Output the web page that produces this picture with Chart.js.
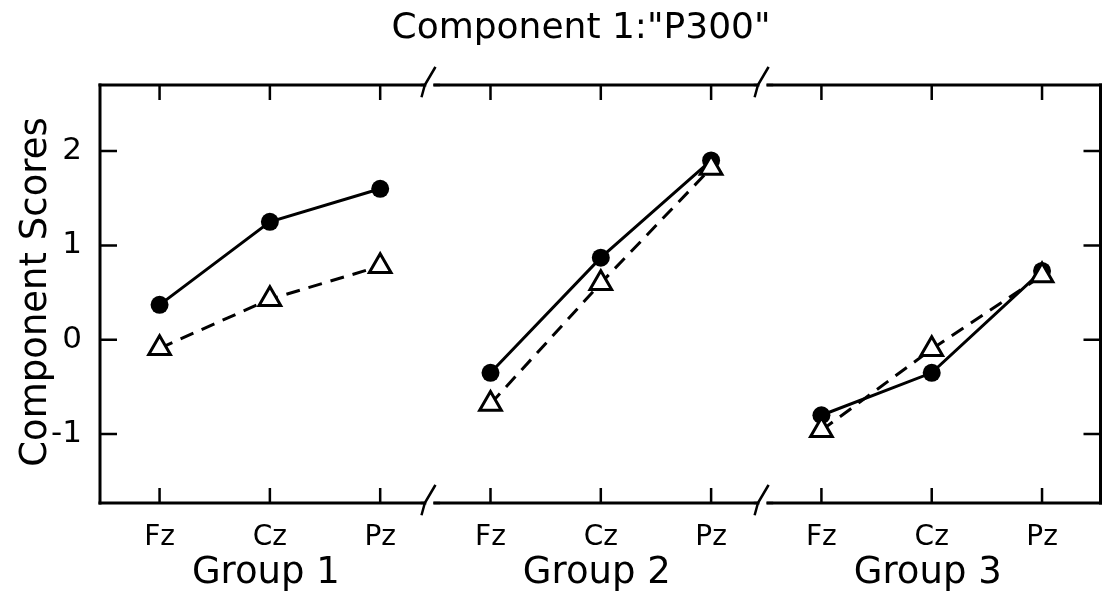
<!DOCTYPE html>
<html>
<head>
<meta charset="utf-8">
<script src="https://cdn.jsdelivr.net/npm/chart.js@4.4.0/dist/chart.umd.min.js"></script>
<style>
  html, body { margin: 0; padding: 0; background: #fff; }
  #wrap { width: 1116px; height: 603px; }
</style>
</head>
<body>
<div id="wrap"><canvas id="p300Chart"></canvas></div>
<script>
  const chartTitle = 'Component 1:"P300"';
  const yTitle = 'Component Scores';
  const groups = ['Group 1', 'Group 2', 'Group 3'];
  const electrodes = ['Fz', 'Cz', 'Pz'];
  // filled circles, solid line
  const circleScores = [0.37, 1.25, 1.6, -0.35, 0.87, 1.9, -0.8, -0.35, 0.73];
  // open triangles, dashed line
  const triangleScores = [-0.09, 0.43, 0.78, -0.68, 0.6, 1.82, -0.96, -0.1, 0.68];
  const yTicks = [-1, 0, 1, 2];

  const FONT = '"DejaVu Sans", sans-serif';

  // one line per group: a null point between groups breaks the line
  function toPoints(values) {
    const pts = [];
    groups.forEach((g, gi) => {
      electrodes.forEach((e, ei) => {
        pts.push({ x: gi * 3 + ei, y: values[gi * 3 + ei] });
      });
      if (gi < groups.length - 1) pts.push({ x: gi * 3 + 2.5, y: null });
    });
    return pts;
  }

  // frame with inward ticks and axis breaks, plus titles
  const framePlugin = {
    id: 'frame',
    beforeDatasetsDraw(chart) {
      const { ctx, chartArea: a, scales: { x, y } } = chart;
      ctx.save();
      ctx.strokeStyle = '#000';
      ctx.lineWidth = 3;
      ctx.lineCap = 'square';
      const breaks = [2.45, 5.47].map(v => x.getPixelForValue(v));

      // left and right sides
      ctx.beginPath();
      ctx.moveTo(a.left, a.top); ctx.lineTo(a.left, a.bottom);
      ctx.moveTo(a.right, a.top); ctx.lineTo(a.right, a.bottom);
      ctx.stroke();

      // top and bottom, broken between groups
      [a.top, a.bottom].forEach(yy => {
        let start = a.left;
        ctx.beginPath();
        breaks.forEach(bx => {
          ctx.moveTo(start, yy); ctx.lineTo(bx - 5, yy);
          start = bx + 5;
        });
        ctx.moveTo(start, yy); ctx.lineTo(a.right, yy);
        ctx.stroke();
        ctx.lineWidth = 2.5;
        breaks.forEach(bx => {
          ctx.beginPath();
          ctx.moveTo(bx - 8, yy); ctx.lineTo(bx - 5, yy);
          ctx.lineTo(bx - 8, yy + 11);
          ctx.moveTo(bx - 5, yy); ctx.lineTo(bx + 5, yy - 17);
          ctx.moveTo(bx + 5, yy); ctx.lineTo(bx + 9, yy);
          ctx.stroke();
        });
        ctx.lineWidth = 3;
      });

      // inward ticks
      ctx.lineWidth = 2.5;
      ctx.lineCap = 'butt';
      ctx.beginPath();
      yTicks.forEach(v => {
        const py = y.getPixelForValue(v);
        ctx.moveTo(a.left, py); ctx.lineTo(a.left + 17, py);
        ctx.moveTo(a.right, py); ctx.lineTo(a.right - 17, py);
      });
      for (let i = 0; i < groups.length * electrodes.length; i++) {
        const px = x.getPixelForValue(i);
        ctx.moveTo(px, a.bottom); ctx.lineTo(px, a.bottom - 15);
        ctx.moveTo(px, a.top); ctx.lineTo(px, a.top + 15);
      }
      ctx.stroke();
      ctx.restore();
    },
    afterDraw(chart) {
      const { ctx, chartArea: a, scales: { x } } = chart;
      ctx.save();
      ctx.fillStyle = '#000';
      ctx.textAlign = 'center';
      ctx.textBaseline = 'alphabetic';
      ctx.font = '36px ' + FONT;
      ctx.fillText(chartTitle, 581, 38);

      ctx.font = '37px ' + FONT;
      groups.forEach((g, gi) => {
        ctx.fillText(g, x.getPixelForValue(gi * 3 + 1) - 4, 583);
      });

      ctx.translate(46, (a.top + a.bottom) / 2 - 2);
      ctx.rotate(-Math.PI / 2);
      ctx.font = '37px ' + FONT;
      ctx.fillText(yTitle, 0, 0);
      ctx.restore();
    }
  };

  const p300Chart = new Chart(document.getElementById('p300Chart'), {
    type: 'line',
    data: {
      datasets: [
        {
          label: 'Triangles',
          data: toPoints(triangleScores),
          borderColor: '#000',
          borderWidth: 3,
          borderDash: [14, 9],
          pointStyle: 'triangle',
          pointRadius: 12.5,
          pointBorderWidth: 3,
          pointBackgroundColor: '#fff',
          pointBorderColor: '#000',
          spanGaps: false,
          tension: 0
        },
        {
          label: 'Circles',
          data: toPoints(circleScores),
          borderColor: '#000',
          borderWidth: 3,
          pointStyle: 'circle',
          pointRadius: 9,
          pointBorderWidth: 0,
          pointBackgroundColor: '#000',
          spanGaps: false,
          tension: 0
        }
      ]
    },
    options: {
      responsive: true,
      maintainAspectRatio: false,
      animation: false,
      layout: { padding: { top: 85, right: 6, left: 0, bottom: 0 } },
      plugins: {
        legend: { display: false },
        tooltip: { enabled: false }
      },
      scales: {
        x: {
          type: 'linear',
          min: -0.54,
          max: 8.53,
          grid: { display: false },
          border: { display: false },
          afterBuildTicks: scale => {
            scale.ticks = groups.flatMap((g, gi) => electrodes.map((e, ei) => ({ value: gi * 3 + ei })));
          },
          afterFit: scale => { scale.height = 100; },
          ticks: {
            autoSkip: false,
            maxRotation: 0,
            padding: 10,
            color: '#000',
            font: { family: FONT, size: 28 },
            callback: v => electrodes[Math.round(v) % 3]
          }
        },
        y: {
          min: -1.73,
          max: 2.7,
          grid: { display: false },
          border: { display: false },
          afterBuildTicks: scale => {
            scale.ticks = yTicks.map(v => ({ value: v }));
          },
          afterFit: scale => { scale.width = 100; },
          ticks: {
            padding: 10,
            color: '#000',
            font: { family: FONT, size: 31 }
          }
        }
      }
    },
    plugins: [framePlugin]
  });
</script>
</body>
</html>
